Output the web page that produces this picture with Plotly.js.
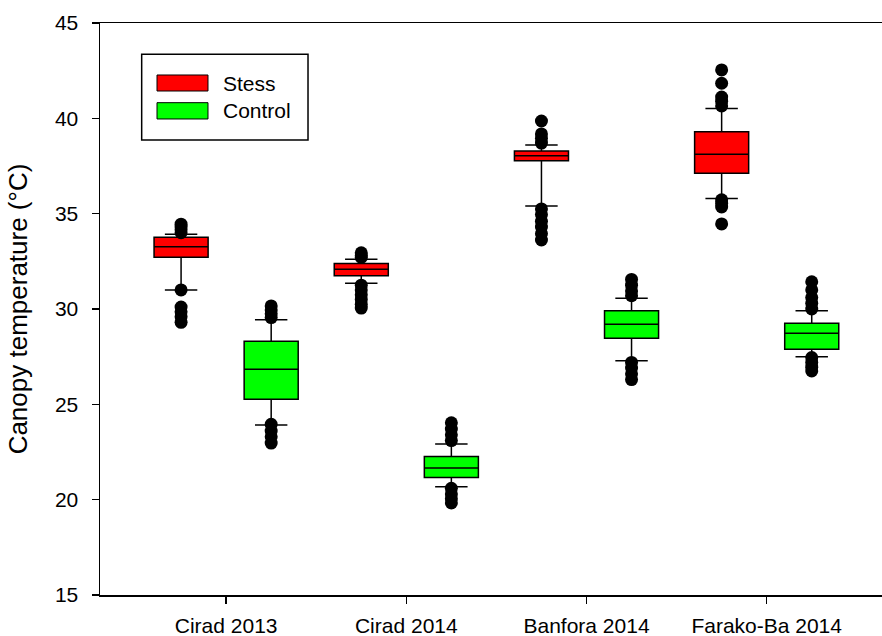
<!DOCTYPE html>
<html><head><meta charset="utf-8">
<script src="https://cdn.plot.ly/plotly-3.0.1.min.js"></script>
<style>html,body{margin:0;padding:0;background:#fff}</style>
</head><body><div id="chart" style="width:882px;height:636px"></div>
<script>
const categories = ['Cirad 2013', 'Cirad 2014', 'Banfora 2014', 'Farako-Ba 2014'];

const stressLower  = [31.0, 31.35, 35.4, 35.79];
const stressQ1     = [32.71, 31.75, 37.78, 37.12];
const stressMedian = [33.27, 32.08, 38.04, 38.11];
const stressQ3     = [33.76, 32.38, 38.29, 39.3];
const stressUpper  = [33.92, 32.61, 38.6, 40.51];

const controlLower  = [23.92, 20.68, 27.29, 27.5];
const controlQ1     = [25.27, 21.16, 28.47, 27.89];
const controlMedian = [26.84, 21.66, 29.2, 28.73];
const controlQ3     = [28.31, 22.26, 29.91, 29.25];
const controlUpper  = [29.43, 22.92, 30.56, 29.91];

const stressOutliers = [
  [34.45, 34.3, 34.15, 34.0, 31.0, 30.1, 29.85, 29.6, 29.3],
  [32.95, 32.8, 32.7, 31.25, 31.0, 30.75, 30.5, 30.25, 30.05],
  [39.86, 39.18, 38.95, 38.7, 35.25, 34.95, 34.6, 34.3, 33.95, 33.62],
  [42.54, 41.84, 41.12, 40.9, 40.65, 35.73, 35.55, 35.35, 34.46]
];
const controlOutliers = [
  [30.16, 29.95, 29.75, 29.55, 23.95, 23.6, 23.3, 22.97],
  [24.03, 23.7, 23.4, 23.1, 20.6, 20.3, 20.05, 19.83],
  [31.55, 31.25, 30.95, 30.7, 27.2, 26.9, 26.6, 26.3],
  [31.43, 31.0, 30.6, 30.3, 30.0, 27.45, 27.2, 26.95, 26.75]
];

const seriesNames = ['Stess', 'Control'];
const seriesColors = ['#ff0000', '#00ff00'];

function flatX(groups) { const x = []; groups.forEach((g, i) => g.forEach(() => x.push(categories[i]))); return x; }
function flatY(groups) { return [].concat(...groups); }

const boxStyle = { line: { color: '#000', width: 1.5 }, whiskerwidth: 0.6, hoverinfo: 'skip', showlegend: false, boxpoints: false };

const data = [
  Object.assign({ type: 'box', name: seriesNames[0], offsetgroup: 's', x: categories, lowerfence: stressLower, q1: stressQ1,
    median: stressMedian, q3: stressQ3, upperfence: stressUpper, fillcolor: seriesColors[0] }, boxStyle),
  Object.assign({ type: 'box', name: seriesNames[1], offsetgroup: 'c', x: categories, lowerfence: controlLower, q1: controlQ1,
    median: controlMedian, q3: controlQ3, upperfence: controlUpper, fillcolor: seriesColors[1] }, boxStyle),
  { type: 'scatter', mode: 'markers', x: flatX(stressOutliers), y: flatY(stressOutliers), offsetgroup: 's',
    marker: { color: '#000', size: 13 }, showlegend: false, hoverinfo: 'skip' },
  { type: 'scatter', mode: 'markers', x: flatX(controlOutliers), y: flatY(controlOutliers), offsetgroup: 'c',
    marker: { color: '#000', size: 13 }, showlegend: false, hoverinfo: 'skip' }
];

const font = { family: 'Liberation Sans, Arial, sans-serif', size: 21, color: '#000' };

const legendShapes = [
  { type: 'rect', xref: 'paper', yref: 'paper', x0: 0.0533, x1: 0.266, y0: 0.7955, y1: 0.9453, line: { color: '#000', width: 1.5 }, fillcolor: 'rgba(0,0,0,0)' },
  { type: 'rect', xref: 'paper', yref: 'paper', x0: 0.0729, x1: 0.1381, y0: 0.8811, y1: 0.9091, line: { color: '#000', width: 1 }, fillcolor: seriesColors[0] },
  { type: 'rect', xref: 'paper', yref: 'paper', x0: 0.0729, x1: 0.1381, y0: 0.8322, y1: 0.8607, line: { color: '#000', width: 1 }, fillcolor: seriesColors[1] }
];
const legendText = [
  { xref: 'paper', yref: 'paper', x: 0.1547, y: 0.8951, text: seriesNames[0], showarrow: false, xanchor: 'left', yanchor: 'middle', font: font },
  { xref: 'paper', yref: 'paper', x: 0.1547, y: 0.8462, text: seriesNames[1], showarrow: false, xanchor: 'left', yanchor: 'middle', font: font }
];

const layout = {
  width: 882, height: 636,
  margin: { l: 100, r: 0, t: 23, b: 41 },
  paper_bgcolor: '#fff', plot_bgcolor: '#fff',
  font: font,
  showlegend: false,
  boxmode: 'group', boxgap: 0, boxgroupgap: 0.4,
  scattermode: 'group', scattergap: 0,
  xaxis: {
    type: 'category', categoryarray: categories, range: [-0.7, 3.64],
    showline: true, mirror: true, linecolor: '#000', linewidth: 1.5,
    ticks: 'outside', ticklen: 7, tickwidth: 1.5, tickcolor: '#000',
    showgrid: false, zeroline: false, ticklabelstandoff: 4, tickfont: font
  },
  yaxis: {
    range: [15, 45], dtick: 5, tick0: 15,
    showline: true, linecolor: '#000', linewidth: 1.5,
    ticks: 'outside', ticklen: 7, tickwidth: 1.5, tickcolor: '#000',
    showgrid: false, zeroline: false, ticklabelstandoff: 9, tickfont: font,
    title: { text: 'Canopy temperature (°C)', font: Object.assign({}, font, { size: 26 }), standoff: 20 }
  },
  shapes: legendShapes,
  annotations: legendText
};

Plotly.newPlot('chart', data, layout, { staticPlot: true, displayModeBar: false });
</script></body></html>
